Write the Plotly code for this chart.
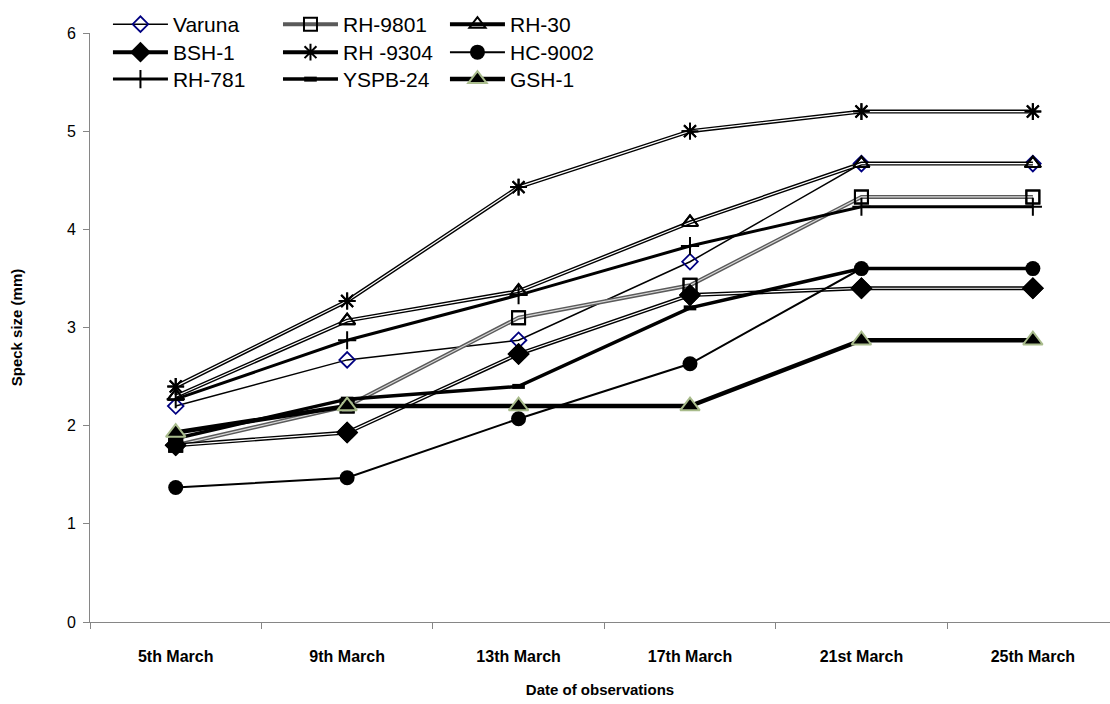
import plotly.graph_objects as go

# Observation dates (category axis)
dates = ["5th March", "9th March", "13th March", "17th March", "21st March", "25th March"]

# Speck size (mm) per variety
varuna = [2.2, 2.67, 2.87, 3.67, 4.67, 4.67]
rh_9801 = [1.8, 2.2, 3.1, 3.43, 4.33, 4.33]
rh_30 = [2.3, 3.07, 3.37, 4.07, 4.67, 4.67]
bsh_1 = [1.8, 1.93, 2.73, 3.33, 3.4, 3.4]
rh_9304 = [2.4, 3.27, 4.43, 5.0, 5.2, 5.2]
hc_9002 = [1.37, 1.47, 2.07, 2.63, 3.6, 3.6]
rh_781 = [2.27, 2.87, 3.33, 3.83, 4.23, 4.23]
yspb_24 = [1.87, 2.27, 2.4, 3.2, 3.6, 3.6]
gsh_1 = [1.93, 2.2, 2.2, 2.2, 2.87, 2.87]

FONT = "Liberation Sans, Arial, sans-serif"
AXIS_GREY = "#868686"

# name, values, legend (column, row), line style, marker
series = [
    ("Varuna", varuna, (0, 0), dict(kind="solid", color="black", width=1.5),
     dict(symbol="diamond-open", size=12, color="#000080", line=dict(width=1.8, color="#000080"))),
    ("RH-9801", rh_9801, (1, 0), dict(kind="double", color="#5a5a5a", width=4, inner="#d9d9d9", iw=1.2),
     dict(symbol="square-open", size=13, color="black", line=dict(width=2, color="black"))),
    ("RH-30", rh_30, (2, 0), dict(kind="double", color="black", width=4, inner="white", iw=1.2),
     dict(symbol="triangle-up-open", size=14, color="black", line=dict(width=2, color="black"))),
    ("BSH-1", bsh_1, (0, 1), dict(kind="double", color="black", width=4, inner="white", iw=1.2),
     dict(symbol="diamond", size=17, color="black", line=dict(width=0))),
    ("RH -9304", rh_9304, (1, 1), dict(kind="double", color="black", width=4, inner="white", iw=1.2),
     dict(symbol="asterisk-open", size=14, color="black", line=dict(width=2, color="black"))),
    ("HC-9002", hc_9002, (2, 1), dict(kind="solid", color="black", width=2),
     dict(symbol="circle", size=15, color="black", line=dict(width=0))),
    ("RH-781", rh_781, (0, 2), dict(kind="solid", color="black", width=3),
     dict(symbol="cross-thin-open", size=13, color="black", line=dict(width=2, color="black"))),
    ("YSPB-24", yspb_24, (1, 2), dict(kind="solid", color="black", width=3.5),
     dict(symbol="line-ew-open", size=9, color="black", line=dict(width=5, color="black"))),
    ("GSH-1", gsh_1, (2, 2), dict(kind="solid", color="black", width=4.5),
     dict(symbol="triangle-up", size=17, color="black", line=dict(width=2, color="#A9BC8C"))),
]

legend_cols = [0.0176, 0.1843, 0.348]
legend_rows = [1.0492, 1.0017, 0.9559]

fig = go.Figure()
legend_layouts = {}
for i, (name, vals, (col, row), ls, mk) in enumerate(series):
    leg = "legend" if i == 0 else f"legend{i + 1}"
    legend_layouts[leg] = dict(
        x=legend_cols[col], y=legend_rows[row], xanchor="left", yanchor="top",
        font=dict(family=FONT, size=21, color="black"),
        bgcolor="rgba(0,0,0,0)", itemwidth=55,
    )
    fig.add_trace(go.Scatter(
        x=dates, y=vals, name=name, mode="lines+markers", legend=leg, legendgroup=name,
        line=dict(color=ls["color"], width=ls["width"]), marker=mk,
    ))
    if ls["kind"] == "double":
        fig.add_trace(go.Scatter(
            x=dates, y=vals, mode="lines", showlegend=False, legendgroup=name, hoverinfo="skip",
            line=dict(color=ls["inner"], width=ls["iw"]),
        ))
        fig.add_trace(go.Scatter(
            x=dates, y=vals, mode="markers", showlegend=False, legendgroup=name, hoverinfo="skip",
            marker=mk,
        ))

fig.update_layout(
    width=1110, height=704,
    margin=dict(l=90, r=0, t=33, b=82),
    paper_bgcolor="white", plot_bgcolor="white",
    font=dict(family=FONT, color="black"),
    xaxis=dict(
        type="category", categoryorder="array", categoryarray=dates,
        range=[-0.5, 5.45], tickson="boundaries", ticks="outside", ticklen=6,
        tickcolor=AXIS_GREY, showline=True, linecolor=AXIS_GREY, linewidth=1,
        showgrid=False, ticklabelstandoff=20,
        tickfont=dict(family=FONT, size=16, weight="bold"),
        title=dict(text="Date of observations", font=dict(family=FONT, size=15, weight="bold"), standoff=20),
    ),
    yaxis=dict(
        range=[0, 6], dtick=1, ticks="outside", ticklen=6, tickcolor=AXIS_GREY,
        showline=True, linecolor=AXIS_GREY, linewidth=1, showgrid=False, zeroline=False,
        ticklabelstandoff=4,
        tickfont=dict(family=FONT, size=16),
        title=dict(text="Speck size (mm)", font=dict(family=FONT, size=15, weight="bold"), standoff=40),
    ),
    **legend_layouts,
)

fig.write_html("out.html")
